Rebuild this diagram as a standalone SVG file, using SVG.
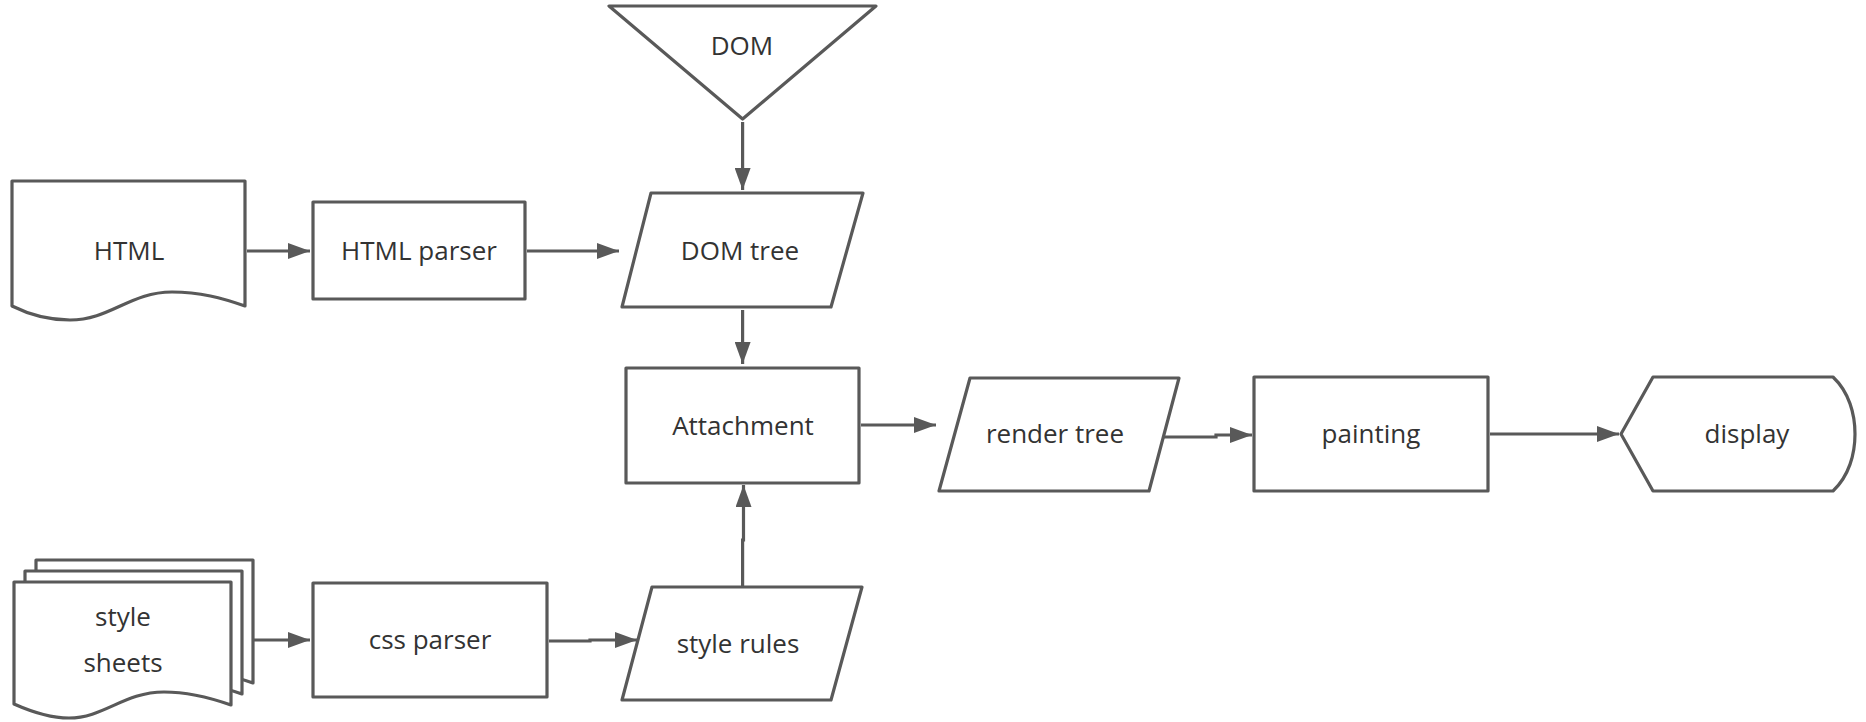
<svg xmlns="http://www.w3.org/2000/svg" width="1866" height="722" viewBox="0 0 1866 722">
<style>
.s{fill:#fff;stroke:#595959;stroke-width:3.2;stroke-linejoin:round}
.c{fill:none;stroke:#595959;stroke-width:3.2;marker-end:url(#ah)}
.t{font-family:"Open Sans","Noto Sans",sans-serif;font-size:26px;fill:#333;text-anchor:middle}
</style>
<defs>
<marker id="ah" markerUnits="userSpaceOnUse" markerWidth="22" markerHeight="16" refX="22" refY="8" orient="auto">
<path d="M0 0 L22 8 L0 16 Z" fill="#595959"/>
</marker>
<path id="doc" d="M0 0 H217 V123 C197 116 175 110 150 110 C110 110 90 136 55 136 C35 136 18 130 0 122 Z"/>
</defs>
<rect width="1866" height="722" fill="#fff"/>
<g id="connectors">
<path class="c" d="M742.6 122 V190"/>
<path class="c" d="M247 251 H310"/>
<path class="c" d="M527 251 H619"/>
<path class="c" d="M742.6 310 V364"/>
<path class="c" d="M861 425 H936"/>
<path class="c" d="M1160 437 H1216 V435 H1252"/>
<path class="c" d="M1490 434 H1619"/>
<path class="c" d="M253 640 H310"/>
<path class="c" d="M549 641 H590 V640 H637"/>
<path class="c" d="M742.6 587 V540 H743.5 V485"/>
</g>
<g id="node-dom">
<path class="s" d="M609 6 H876 L742.6 119 Z"/>
<text class="t" x="742" y="55">DOM</text>
</g>
<g id="node-html">
<path class="s" d="M12 181 H245 V306 C222 298 200 292 172 292 C130 292 110 320 70 320 C45 320 28 314 12 306 Z"/>
<text class="t" x="129" y="260">HTML</text>
</g>
<g id="node-html-parser">
<rect class="s" x="313" y="202" width="212" height="97"/>
<text class="t" x="419" y="260">HTML parser</text>
</g>
<g id="node-dom-tree">
<path class="s" d="M651 193 H863 L831 307 H622 Z"/>
<text class="t" x="740" y="260">DOM tree</text>
</g>
<g id="node-attachment">
<rect class="s" x="626" y="368" width="233" height="115"/>
<text class="t" x="743" y="435">Attachment</text>
</g>
<g id="node-render-tree">
<path class="s" d="M970 378 H1179 L1149 491 H939 Z"/>
<text class="t" x="1055" y="443">render tree</text>
</g>
<g id="node-painting">
<rect class="s" x="1254" y="377" width="234" height="114"/>
<text class="t" x="1371" y="443">painting</text>
</g>
<g id="node-display">
<path class="s" d="M1621 434 L1653 377 H1833 C1849 392 1855 414 1855 434 C1855 454 1849 476 1833 491 H1653 Z"/>
<text class="t" x="1747" y="443">display</text>
</g>
<g id="node-style-sheets">
<use href="#doc" class="s" x="36" y="560"/>
<use href="#doc" class="s" x="25" y="571"/>
<use href="#doc" class="s" x="14" y="582"/>
<text class="t" x="123" y="626">style</text>
<text class="t" x="123" y="672">sheets</text>
</g>
<g id="node-css-parser">
<rect class="s" x="313" y="583" width="234" height="114"/>
<text class="t" x="430" y="649">css parser</text>
</g>
<g id="node-style-rules">
<path class="s" d="M652 587 H862 L831 700 H622 Z"/>
<text class="t" x="738" y="653">style rules</text>
</g>
</svg>
